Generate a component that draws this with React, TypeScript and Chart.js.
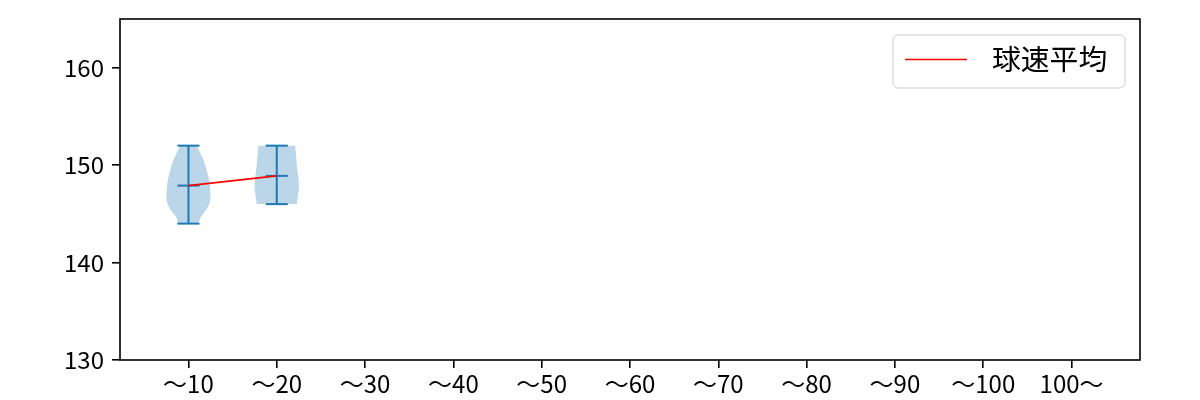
import React, { useEffect, useRef } from "react";
import { Chart, registerables } from "chart.js";

Chart.register(...registerables);

const categories = ["～10", "～20", "～30", "～40", "～50", "～60", "～70", "～80", "～90", "～100", "100～"];
const seriesLabel = "球速平均";
const meanSpeeds: (number | null)[] = [147.9, 148.9, null, null, null, null, null, null, null, null, null];
const minSpeeds: (number | null)[] = [144, 146, null, null, null, null, null, null, null, null, null];
const maxSpeeds: (number | null)[] = [152, 152, null, null, null, null, null, null, null, null, null];
const yTicks = [130, 140, 150, 160];

// violin outlines: speed levels and relative half-widths (1 = widest)
const violin1Levels = [152, 151.3, 150.6, 149.9, 149.2, 148.6, 147.9, 147.2, 146.5, 145.9, 145.5, 145.1, 144.7, 144.1];
const violin1Widths = [0.38, 0.52, 0.67, 0.77, 0.86, 0.92, 0.97, 0.99, 1.0, 0.93, 0.83, 0.7, 0.56, 0.47];
const violin2Levels = [152, 151.3, 150.6, 149.9, 149.2, 148.6, 147.9, 147.5, 146.7, 146.0];
const violin2Widths = [0.83, 0.86, 0.89, 0.91, 0.95, 0.99, 1.0, 1.0, 0.95, 0.91];

const violins = [
  { pos: 1, levels: violin1Levels, widths: violin1Widths },
  { pos: 2, levels: violin2Levels, widths: violin2Widths },
];

const FONT = '"Noto Sans CJK JP", "Noto Sans", sans-serif';
const BLUE = "#1f77b4";

const violinPlugin = {
  id: "violins",
  beforeDatasetsDraw(chart: any) {
    const { ctx, chartArea, scales } = chart;
    const x = scales.x;
    const y = scales.y;
    ctx.save();
    ctx.beginPath();
    ctx.rect(chartArea.left, chartArea.top, chartArea.right - chartArea.left, chartArea.bottom - chartArea.top);
    ctx.clip();
    const half = 0.25;
    violins.forEach((v) => {
      ctx.beginPath();
      v.levels.forEach((lv, j) => {
        const px = x.getPixelForValue(v.pos + v.widths[j] * half);
        const py = y.getPixelForValue(lv);
        if (j === 0) ctx.moveTo(px, py);
        else ctx.lineTo(px, py);
      });
      for (let j = v.levels.length - 1; j >= 0; j--) {
        ctx.lineTo(x.getPixelForValue(v.pos - v.widths[j] * half), y.getPixelForValue(v.levels[j]));
      }
      ctx.closePath();
      ctx.fillStyle = "rgba(31,119,180,0.3)";
      ctx.fill();
    });
    // min / max / mean bars
    ctx.strokeStyle = BLUE;
    ctx.lineWidth = 2;
    const cap = 0.125;
    categories.forEach((_, i) => {
      const mn = minSpeeds[i];
      const mx = maxSpeeds[i];
      const me = meanSpeeds[i];
      if (mn == null || mx == null) return;
      const pos = i + 1;
      const cx = x.getPixelForValue(pos);
      ctx.beginPath();
      ctx.moveTo(cx, y.getPixelForValue(mn));
      ctx.lineTo(cx, y.getPixelForValue(mx));
      ctx.stroke();
      [mn, mx, me].forEach((val) => {
        if (val == null) return;
        const py = y.getPixelForValue(val);
        ctx.beginPath();
        ctx.moveTo(x.getPixelForValue(pos - cap), py);
        ctx.lineTo(x.getPixelForValue(pos + cap), py);
        ctx.stroke();
      });
    });
    ctx.restore();
  },
  afterDraw(chart: any) {
    const { ctx, chartArea } = chart;
    ctx.save();
    // frame
    ctx.strokeStyle = "#000";
    ctx.lineWidth = 1.6;
    ctx.strokeRect(chartArea.left, chartArea.top, chartArea.right - chartArea.left, chartArea.bottom - chartArea.top);
    // legend
    const w = 232;
    const h = 53;
    const bx = chartArea.right - 15 - w;
    const by = chartArea.top + 16;
    const r = 5;
    ctx.beginPath();
    ctx.moveTo(bx + r, by);
    ctx.lineTo(bx + w - r, by);
    ctx.arcTo(bx + w, by, bx + w, by + r, r);
    ctx.lineTo(bx + w, by + h - r);
    ctx.arcTo(bx + w, by + h, bx + w - r, by + h, r);
    ctx.lineTo(bx + r, by + h);
    ctx.arcTo(bx, by + h, bx, by + h - r, r);
    ctx.lineTo(bx, by + r);
    ctx.arcTo(bx, by, bx + r, by, r);
    ctx.closePath();
    ctx.fillStyle = "rgba(255,255,255,0.8)";
    ctx.fill();
    ctx.strokeStyle = "#cccccc";
    ctx.lineWidth = 1;
    ctx.stroke();
    const cy = by + 24.5;
    ctx.strokeStyle = "red";
    ctx.lineWidth = 1.5;
    ctx.beginPath();
    ctx.moveTo(bx + 12, cy);
    ctx.lineTo(bx + 74, cy);
    ctx.stroke();
    ctx.fillStyle = "#000";
    ctx.font = `28.8px ${FONT}`;
    ctx.textBaseline = "middle";
    ctx.textAlign = "left";
    ctx.fillText(chart.data.datasets[0].label, bx + 99, cy);
    ctx.restore();
  },
};

export default function App() {
  const ref = useRef<HTMLCanvasElement | null>(null);
  useEffect(() => {
    document.body.style.margin = "0";
    if (!ref.current) return;
    const points = meanSpeeds
      .map((v, i) => (v == null ? null : { x: i + 1, y: v }))
      .filter((p) => p !== null) as { x: number; y: number }[];
    const chart = new Chart(ref.current, {
      type: "line",
      data: {
        datasets: [
          {
            label: seriesLabel,
            data: points,
            borderColor: "red",
            borderWidth: 1.6,
            pointRadius: 0,
            fill: false,
            tension: 0,
          },
        ],
      },
      options: {
        responsive: false,
        animation: false,
        devicePixelRatio: 1,
        layout: { padding: { top: 19, right: 60, left: 0, bottom: 0 } },
        plugins: { legend: { display: false }, tooltip: { enabled: false } },
        scales: {
          x: {
            type: "linear",
            min: 0.225,
            max: 11.775,
            afterBuildTicks: (scale: any) => {
              scale.ticks = categories.map((_, i) => ({ value: i + 1 }));
            },
            afterFit: (scale: any) => {
              scale.height = 40;
              scale.paddingLeft = 0;
              scale.paddingRight = 0;
            },
            ticks: {
              autoSkip: false,
              maxRotation: 0,
              padding: 1,
              color: "#000",
              font: { family: FONT, size: 24 },
              callback: (v: any) => categories[Math.round(Number(v)) - 1] ?? "",
            },
            grid: { display: true, drawOnChartArea: false, drawTicks: true, tickLength: 8, color: "#000", lineWidth: 1.6 },
            border: { display: false },
          },
          y: {
            type: "linear",
            min: 130,
            max: 165,
            afterBuildTicks: (scale: any) => {
              scale.ticks = yTicks.map((v) => ({ value: v }));
            },
            afterFit: (scale: any) => {
              scale.width = 120;
              scale.paddingTop = 0;
              scale.paddingBottom = 0;
            },
            ticks: {
              padding: 8,
              color: "#000",
              font: { family: FONT, size: 24 },
              callback: (v: any) => String(v),
            },
            grid: { display: true, drawOnChartArea: false, drawTicks: true, tickLength: 8, color: "#000", lineWidth: 1.6 },
            border: { display: false },
          },
        },
      },
      plugins: [violinPlugin],
    });
    return () => chart.destroy();
  }, []);
  return (
    <div style={{ width: 1200, height: 400 }}>
      <canvas ref={ref} width={1200} height={400} />
    </div>
  );
}
